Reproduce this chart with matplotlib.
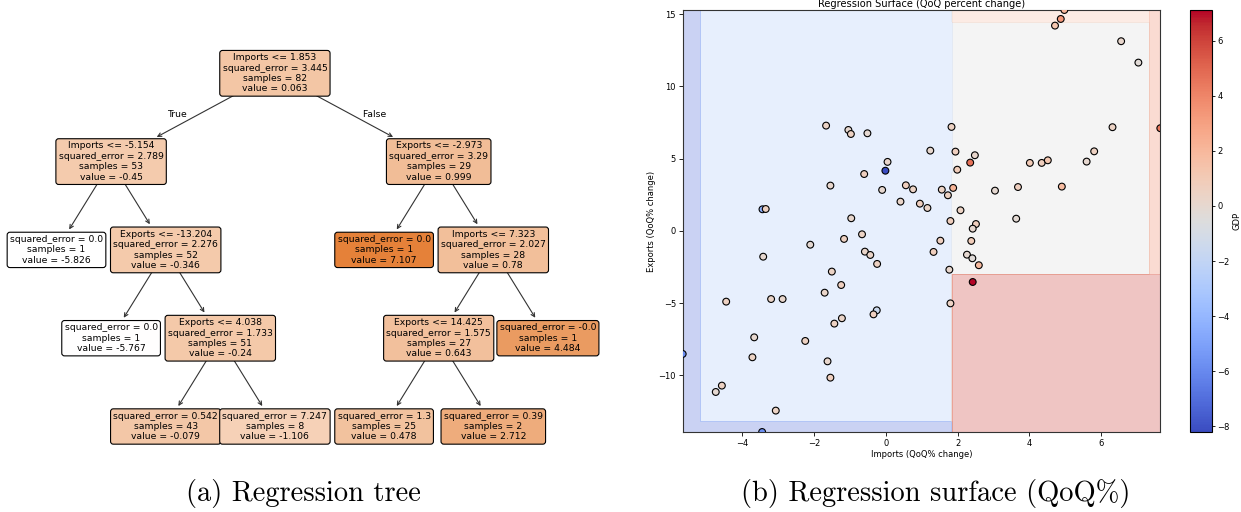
import numpy as np
import matplotlib
matplotlib.use("Agg")
import matplotlib.pyplot as plt

# === Data: quarterly QoQ% changes ===
imports = [
    # Imports <= 1.853, Exports > 4.038
    -1.66, -1.04, -0.97, -0.51, 1.83, 1.24, 0.05, -0.01,
    # Imports <= 1.853, -13.204 < Exports <= 4.038
    -0.60, -1.54, 0.56, 0.76, -0.10, 1.56, 1.73, 0.41, 0.95, 1.16, -3.43, -3.34,
    -0.96, 1.80, -0.66, -2.10, -1.16, 1.52, -0.58, -0.43, 1.33, -3.41, -0.24, -1.50,
    1.77, -1.24, -1.70, -4.44, -3.19, -2.87, 1.80, -0.25, -0.34, -1.22, -1.43, -3.66,
    -2.24, -3.71, -1.62, -1.54, -4.56, -4.73, -3.06,
    # Imports > 1.853, -2.973 < Exports <= 14.425, Imports <= 7.323
    1.876, 1.94, 2.48, 2.35, 1.99, 4.01, 4.34, 4.51, 5.59, 5.80, 3.04, 3.68, 4.90,
    2.08, 3.63, 2.51, 2.42, 4.71, 6.55, 7.03, 6.31, 2.38, 2.26, 2.41, 2.59,
    # remaining single / small leaves
    4.97, 4.87, 7.64, 2.42, -5.65, -3.44,
]
exports = [
    7.29, 6.99, 6.71, 6.76, 7.20, 5.56, 4.78, 4.17,
    3.94, 3.14, 3.16, 2.88, 2.84, 2.86, 2.47, 2.03, 1.89, 1.59, 1.50, 1.52,
    0.88, 0.69, -0.23, -0.95, -0.55, -0.67, -1.43, -1.66, -1.45, -1.78, -2.28, -2.81,
    -2.68, -3.74, -4.27, -4.89, -4.71, -4.71, -5.01, -5.49, -5.77, -6.04, -6.41, -7.36,
    -7.61, -8.74, -9.02, -10.15, -10.70, -11.14, -12.43,
    2.98, 5.49, 5.24, 4.73, 4.24, 4.71, 4.71, 4.89, 4.80, 5.51, 2.79, 3.04, 3.07,
    1.43, 0.85, 0.48, 0.16, 14.21, 13.13, 11.65, 7.18, -0.69, -1.64, -1.89, -2.37,
    15.29, 14.67, 7.11, -3.53, -8.51, -13.91,
]
gdp = [
    0.45, 0.05, 0.55, -0.05, 0.5, 0.1, 0.2, -8.2,
    0.65, 0.15, 0.75, 0.45, 0.05, 0.45, 0.55, 0.25, 0.65, 0.35, -4.2, 0.55,
    0.15, 0.75, 0.45, -0.05, 0.55, 0.65, 0.25, 0.35, 0.75, 0.05, 0.55, 0.45,
    0.15, 0.65, 0.25, 0.55, 0.35, 0.15, 0.45, -1.5, 0.65, 0.35, 0.55, 0.05,
    0.55, 0.45, 0.15, 0.65, 0.55, -0.05, 0.45,
    2.2, 0.65, 0.15, 4.6, 0.85, 0.95, 0.75, 1.15, 0.05, 0.55, -0.05, 0.65, 1.8,
    0.45, -0.15, 0.75, 0.05, 1.25, 0.15, -0.25, 0.45, 0.85, -0.05, -0.35, 1.9,
    2.09, 3.34, 4.484, 7.107, -5.826, -5.767,
]

# === Fitted regression tree (preorder, -1 = leaf) ===
feature_names = ["Imports", "Exports"]
node_feature = [0, 0, -1, 1, -1, 1, -1, -1, 1, -1, 0, 1, -1, -1, -1]
node_threshold = [1.853, -5.154, 0, -13.204, 0, 4.038, 0, 0, -2.973, 0, 7.323, 14.425, 0, 0, 0]
node_left = [1, 2, -1, 4, -1, 6, -1, -1, 9, -1, 11, 12, -1, -1, -1]
node_right = [8, 3, -1, 5, -1, 7, -1, -1, 10, -1, 14, 13, -1, -1, -1]
node_error = [3.445, 2.789, 0.0, 2.276, 0.0, 1.733, 0.542, 7.247, 3.29, 0.0, 2.027, 1.575, 1.3, 0.39, -0.0]
node_samples = [82, 53, 1, 52, 1, 51, 43, 8, 29, 1, 28, 27, 25, 2, 1]
node_value = [0.063, -0.45, -5.826, -0.346, -5.767, -0.24, -0.079, -1.106, 0.999, 7.107, 0.78, 0.643, 0.478, 2.712, 4.484]

# tree layout: horizontal slot and depth of each node
NODE_U = [2.0, 0.5, 0, 1, 0.5, 1.5, 1, 2, 3.5, 3, 4, 3.5, 3, 4, 4.5]
NODE_DEPTH = [0, 1, 2, 2, 3, 3, 4, 4, 1, 2, 2, 3, 4, 4, 3]
X0, DX = 56.5, 109.2
Y0, DY = 73.3, 88.3
TREE_FS = 6.65

fig = plt.figure(figsize=(12.41, 5.12), dpi=100)

# ---------- (a) regression tree ----------
ax_t = fig.add_axes([0, 0, 630 / 1241, 1])
ax_t.set_xlim(0, 630)
ax_t.set_ylim(512, 0)
ax_t.axis("off")

vmin_n, vmax_n = min(node_value), max(node_value)
base = (229, 129, 57)


def node_color(v):
    a = (v - vmin_n) / (vmax_n - vmin_n)
    return tuple(round(a * c + (1 - a) * 255) / 255 for c in base)


def node_label(i):
    lines = []
    if node_feature[i] >= 0:
        lines.append(f"{feature_names[node_feature[i]]} <= {round(node_threshold[i], 3)}")
    lines.append(f"squared_error = {round(node_error[i], 3)}")
    lines.append(f"samples = {node_samples[i]}")
    lines.append(f"value = {round(node_value[i], 3)}")
    return "\n".join(lines)


def node_xy(i):
    return (X0 + DX * NODE_U[i], Y0 + DY * NODE_DEPTH[i])


parent = {}
for i in range(len(node_left)):
    if node_left[i] >= 0:
        parent[node_left[i]] = i
        parent[node_right[i]] = i

for i in range(len(node_value)):
    xy = node_xy(i)
    kw = dict(ha="center", va="center", fontsize=TREE_FS, zorder=100 - 10 * NODE_DEPTH[i],
              bbox=dict(boxstyle="round", fc=node_color(node_value[i]), ec="black", lw=0.8))
    if i not in parent:
        ax_t.annotate(node_label(i), xy, **kw)
        continue
    p = parent[i]
    pxy = node_xy(p)
    ax_t.annotate(node_label(i), pxy, xytext=xy,
                  arrowprops=dict(arrowstyle="<-", lw=0.8, color="#333333"), **kw)
    if p == 0:
        mid = ((pxy[0] + xy[0]) / 2, (pxy[1] + xy[1]) / 2 - 3)
        if node_left[p] == i:
            ax_t.text(*mid, "True  ", ha="right", va="center", fontsize=TREE_FS)
        else:
            ax_t.text(*mid, "  False", ha="left", va="center", fontsize=TREE_FS)

# ---------- (b) regression surface ----------
ax = fig.add_axes([682.7 / 1241, 80 / 512, 477.6 / 1241, 422 / 512])
cax = fig.add_axes([1190 / 1241, 80 / 512, 22.3 / 1241, 422 / 512])

x = np.array(imports)
y = np.array(exports)
xx, yy = np.meshgrid(np.linspace(x.min(), x.max(), 500), np.linspace(y.min(), y.max(), 500))

feat = np.array(node_feature)
thr = np.array(node_threshold)
lft = np.array(node_left)
rgt = np.array(node_right)
idx = np.zeros(xx.shape, dtype=int)
for _ in range(max(NODE_DEPTH)):
    v = np.where(feat[idx] == 0, xx, yy)
    nxt = np.where(v <= thr[idx], lft[idx], rgt[idx])
    idx = np.where(lft[idx] == -1, idx, nxt)
zz = np.array(node_value)[idx]

ax.contourf(xx, yy, zz, cmap="coolwarm", alpha=0.3)
sc = ax.scatter(x, y, c=gdp, cmap="coolwarm", edgecolors="k", s=24, linewidths=0.8, zorder=3)
cb = fig.colorbar(sc, cax=cax)
cb.set_label("GDP", fontsize=6, labelpad=2)
cb.ax.tick_params(labelsize=6, length=2.2, width=0.6, pad=1.5)
cb.outline.set_linewidth(0.8)

ax.set_title("Regression Surface (QoQ percent change)", fontsize=7.1, pad=2)
ax.set_xlabel("Imports (QoQ% change)", fontsize=6, labelpad=2)
ax.set_ylabel("Exports (QoQ% change)", fontsize=6, labelpad=2)
ax.tick_params(labelsize=6, length=2.8, width=0.6, pad=2)
for s in ax.spines.values():
    s.set_linewidth(0.8)
    s.set_color("#333333")

# ---------- captions ----------
fig.text(303 / 1241, 1 - 493 / 512, "(a) Regression tree", family="cmr10",
         fontsize=20.5, ha="center", va="center")
fig.text(936 / 1241, 1 - 493 / 512, "(b) Regression surface (QoQ%)", family="cmr10",
         fontsize=20.5, ha="center", va="center")

fig.savefig("out.png", dpi=100)
